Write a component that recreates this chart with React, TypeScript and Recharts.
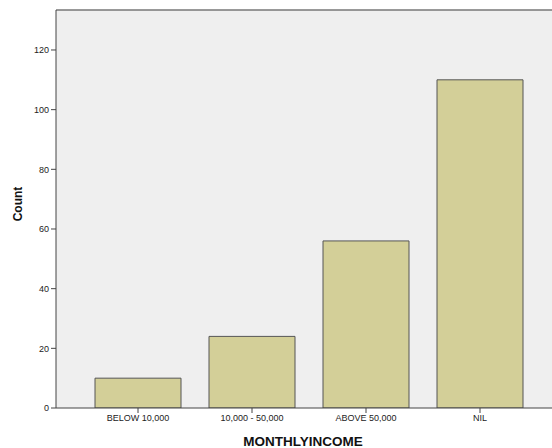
import { Bar, BarChart, CartesianGrid, ReferenceLine, XAxis, YAxis } from 'recharts';

const categories = ['BELOW 10,000', '10,000 - 50,000', 'ABOVE 50,000', 'NIL'];
const counts = [10, 24, 56, 110];
const yTicks = [0, 20, 40, 60, 80, 100, 120];

const data = categories.map((name, i) => ({ name, count: counts[i] }));

const FONT = "'Liberation Sans', Arial, sans-serif";
const Y_MAX = 133.4;

// rotated y-axis title, centred on the plot
function CountLabel(props: any) {
  const vb = props.viewBox ?? {};
  const cx = 18;
  const cy = (vb.y ?? 0) + (vb.height ?? 0) / 2 - 5;
  return (
    <text
      x={cx}
      y={cy}
      transform={`rotate(-90, ${cx}, ${cy})`}
      textAnchor='middle'
      dominantBaseline='central'
      fontFamily={FONT}
      fontSize={12}
      fontWeight='bold'
      fill='#111'
    >
      Count
    </text>
  );
}

// x-axis title, baseline near the bottom edge
function XTitle(props: any) {
  const vb = props.viewBox ?? {};
  const cx = (vb.x ?? 0) + (vb.width ?? 0) / 2 - 2;
  return (
    <text
      x={cx}
      y={446}
      textAnchor='middle'
      fontFamily={FONT}
      fontSize={13.5}
      fontWeight='bold'
      fill='#111'
    >
      MONTHLYINCOME
    </text>
  );
}

export default function App() {
  return (
    <div style={{ position: 'absolute', left: 0, top: 0, width: 552, height: 448, background: '#fff' }}>
      <BarChart
        width={552}
        height={448}
        data={data}
        margin={{ top: 10, right: -2, left: 0, bottom: 0 }}
        barCategoryGap={0}
      >
        <CartesianGrid horizontal={false} vertical={false} fill='#efefef' />
        <XAxis
          dataKey='name'
          height={40}
          padding={{ left: 25, right: 17 }}
          axisLine={{ stroke: '#444' }}
          tickLine={{ stroke: '#444' }}
          tickSize={5}
          tick={{ fontFamily: FONT, fontSize: 9, fill: '#222' }}
          interval={0}
          label={<XTitle />}
        />
        <YAxis
          width={56}
          domain={[0, Y_MAX]}
          ticks={yTicks}
          allowDataOverflow
          axisLine={{ stroke: '#444' }}
          tickLine={{ stroke: '#444' }}
          tickSize={5}
          tick={{ fontFamily: FONT, fontSize: 9, fill: '#222' }}
          label={<CountLabel />}
        />
        <ReferenceLine y={Y_MAX} stroke='#777' strokeWidth={1.5} />
        <Bar
          dataKey='count'
          barSize={86}
          fill='#d3cf98'
          stroke='#555'
          strokeWidth={1}
          isAnimationActive={false}
        />
      </BarChart>
    </div>
  );
}
